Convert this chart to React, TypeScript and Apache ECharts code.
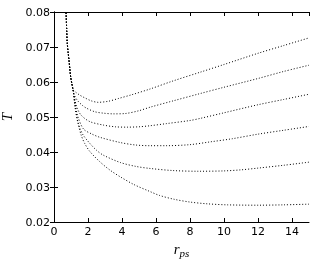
import React, { useEffect, useRef } from "react";
import * as echarts from "echarts";

// Shared steep left branch (all curves coincide here)
const leftBranch: [number, number][] = [
  [0.69, 0.0815], [0.71, 0.0796], [0.75, 0.0745], [0.78, 0.0711], [0.83, 0.0685],
  [0.88, 0.0663], [0.93, 0.0638], [0.98, 0.0615], [1.05, 0.0595], [1.12, 0.0578],
];

const curve1: [number, number][] = [
  [1.25, 0.0572], [1.5, 0.0563], [1.8, 0.0555], [2.2, 0.0546], [2.6, 0.0542], [3.2, 0.0545],
  [3.8, 0.0553], [4.6, 0.0564], [5.65, 0.058], [7, 0.0603], [8.6, 0.0628], [10, 0.065],
  [12, 0.0682], [13.5, 0.0704], [15, 0.0726],
];
const curve2: [number, number][] = [
  [1.2, 0.0562], [1.4, 0.0546], [1.7, 0.0532], [1.92, 0.0525], [2.4, 0.0515], [2.9, 0.0511],
  [3.5, 0.0509], [4.2, 0.051], [5, 0.0518], [5.65, 0.0528], [7, 0.0546], [8.6, 0.0567],
  [10, 0.0585], [12, 0.061], [13.5, 0.063], [15, 0.0648],
];
const curve3: [number, number][] = [
  [1.22, 0.0552], [1.35, 0.0527], [1.6, 0.0505], [2.1, 0.0487], [2.9, 0.0477], [3.6, 0.0472],
  [4.3, 0.0471], [5, 0.0472], [5.65, 0.0475], [6.6, 0.0481], [8, 0.049], [8.6, 0.0496],
  [10, 0.0512], [12, 0.0535], [13.5, 0.055], [15, 0.0565],
];
const curve4: [number, number][] = [
  [1.25, 0.0537], [1.4, 0.0502], [1.73, 0.0466], [2.2, 0.0452], [2.7, 0.0442], [3.9, 0.0427],
  [4.8, 0.042], [5.65, 0.0418], [6.6, 0.0418], [8, 0.0421], [9.2, 0.0429], [10.5, 0.0438],
  [12, 0.0451], [13.5, 0.0462], [15, 0.0473],
];
const curve5: [number, number][] = [
  [1.25, 0.0527], [1.4, 0.0488], [1.55, 0.0465], [1.72, 0.0448], [2.1, 0.0425], [2.5, 0.0405],
  [2.9, 0.0391], [3.9, 0.037], [4.8, 0.0359], [5.65, 0.0353], [7, 0.0347], [8.5, 0.0345],
  [10, 0.0346], [11, 0.0349], [12, 0.0354], [13.5, 0.0362], [15, 0.0371],
];
const curve6: [number, number][] = [
  [1.25, 0.0524], [1.41, 0.0482], [1.6, 0.0448], [1.8, 0.0425], [2.1, 0.0402], [2.7, 0.0372],
  [3.3, 0.0348], [3.9, 0.0329], [4.7, 0.0307], [5.65, 0.0287], [6.2, 0.0276], [7.06, 0.0265],
  [8, 0.0257], [9, 0.0252], [10.2, 0.0249], [12, 0.0248], [13.5, 0.0249], [15, 0.0251],
];

const curves = [curve1, curve2, curve3, curve4, curve5, curve6];

const xMin = 0, xMax = 15, xInterval = 2;
const yMin = 0.02, yMax = 0.08, yInterval = 0.01;

export default function App() {
  const ref = useRef<HTMLDivElement>(null);
  useEffect(() => {
    if (!ref.current) return;
    const chart = echarts.init(ref.current, undefined, { renderer: "svg" });
    const axisLine = { show: true, lineStyle: { color: "#000", width: 1 } };
    const tick = { show: true, inside: true, length: 4, lineStyle: { color: "#000", width: 1 } };
    const label = { color: "#000", fontSize: 11, fontFamily: "DejaVu Sans" };
    chart.setOption({
      animation: false,
      grid: { left: 54, right: 7, top: 12, bottom: 41, containLabel: false, outerBoundsMode: "none" },
      xAxis: [
        {
          type: "value", min: xMin, max: xMax, interval: xInterval,
          axisLine, axisTick: tick, splitLine: { show: false },
          axisLabel: { ...label, margin: 4, showMaxLabel: false },
          name: "{r|r}{s|ps}",
          nameLocation: "middle", nameGap: 17,
          nameTextStyle: {
            rich: {
              r: { fontSize: 15, fontStyle: "italic", fontFamily: "Liberation Serif", color: "#000", verticalAlign: "top" },
              s: { fontSize: 11, fontStyle: "italic", fontFamily: "Liberation Serif", color: "#000", padding: [6, 0, 0, 0] },
            },
          },
        },
        {
          type: "value", position: "top", min: xMin, max: xMax, interval: xInterval,
          axisLine, axisTick: tick, axisLabel: { show: false }, splitLine: { show: false },
        },
      ],
      yAxis: [
        {
          type: "value", min: yMin, max: yMax, interval: yInterval,
          axisLine, axisTick: tick, splitLine: { show: false },
          axisLabel: { ...label, margin: 4, formatter: (v: number) => v.toFixed(2) },
          name: "T", nameLocation: "middle", nameGap: 34, nameRotate: 90,
          nameTextStyle: { fontSize: 15, fontStyle: "italic", fontFamily: "Liberation Serif", color: "#000" },
        },
        {
          type: "value", position: "right", min: yMin, max: yMax, interval: yInterval,
          axisLine, axisTick: tick, axisLabel: { show: false }, splitLine: { show: false },
        },
      ],
      series: curves.map((c) => ({
        type: "line",
        data: [...leftBranch, ...c],
        showSymbol: false,
        symbol: "none",
        smooth: 0.3,
        clip: true,
        lineStyle: { color: "#000", width: 1, type: [1, 2] },
      })),
    });
    return () => chart.dispose();
  }, []);
  return <div ref={ref} style={{ position: "fixed", left: 0, top: 0, width: 316, height: 263 }} />;
}
